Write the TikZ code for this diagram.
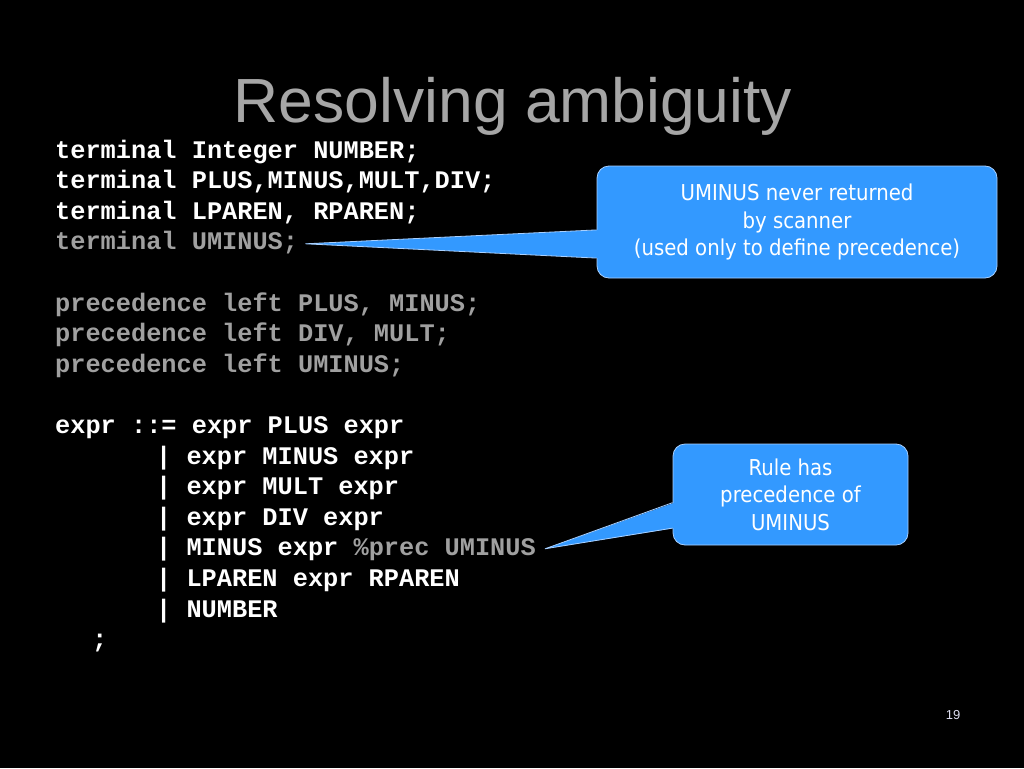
\documentclass[tikz,border=0pt]{standalone}
\usepackage{fontspec}
\setmainfont{Liberation Sans}
\setmonofont{Liberation Mono}
\newfontfamily\notefont{DejaVu Sans Condensed}
\usetikzlibrary{positioning, calc}

\definecolor{codegray}{HTML}{A0A0A0}
\definecolor{titlegray}{HTML}{A6A6A6}
\definecolor{noteblue}{HTML}{3399FF}
\definecolor{noteedge}{HTML}{A8D0FF}
\definecolor{pagecol}{HTML}{DDDDF0}

\tikzset{
  codeline/.style={anchor=base west, inner sep=0pt, text=white,
    font=\fontsize{25.3}{30.6}\selectfont\ttfamily\bfseries},
  notebox/.style={draw=noteedge, fill=noteblue, line width=0.8pt, rounded corners=12pt,
    text=white, align=center, inner sep=0pt, font=\notefont\fontsize{21.9}{27.5}\selectfont},
  wedge/.style={fill=noteblue},
  wedgeline/.style={draw=noteedge, line width=0.8pt}
}

\begin{document}
\begin{tikzpicture}[x=1pt, y=-1pt]
   % Slide
   \useasboundingbox (0,0) rectangle (1024,768);
   \fill[black] (0,0) rectangle (1024,768);

   \node[text=titlegray, font=\fontsize{62.4}{70}\selectfont, anchor=base] (title) at (513,122) {Resolving ambiguity};

   % Grammar lines
   \foreach \i/\x/\txt in {
      0/55/{terminal Integer NUMBER;},
      1/55/{terminal PLUS,MINUS,MULT,DIV;},
      2/55/{terminal LPAREN, RPAREN;},
      3/55/{\color{codegray}terminal UMINUS;},
      5/55/{\color{codegray}precedence left PLUS, MINUS;},
      6/55/{\color{codegray}precedence left DIV, MULT;},
      7/55/{\color{codegray}precedence left UMINUS;},
      9/55/{expr ::= expr PLUS expr},
      10/156/{| expr MINUS expr},
      11/156/{| expr MULT expr},
      12/156/{| expr DIV expr},
      13/156/{| MINUS expr {\color{codegray}\%prec UMINUS}},
      14/156/{| LPAREN expr RPAREN},
      15/156/{| NUMBER},
      16/92/{;}}
      \node[codeline] (line\i) at (\x, 158+30.6*\i) {\txt};

   % Callouts
   \node[notebox, minimum width=400pt, minimum height=112pt] (umnote) at (797,222)
      {UMINUS never returned\\by scanner\\(used only to define precedence)};
   \node[notebox, minimum width=235pt, minimum height=101pt] (rulenote) at (790.5,494.5)
      {Rule has\\precedence of\\UMINUS};

   \coordinate (umtip) at ($(line3.base east)+(7,-6)$);
   \coordinate (ruletip) at ($(line13.base east)+(9,-7)$);

   \fill[wedge] (umtip) -- ($(umnote.north west)!0.57!(umnote.south west)+(2,0)$)
      -- ($(umnote.north west)!0.82!(umnote.south west)+(2,0)$) -- cycle;
   \draw[wedgeline] ($(umnote.north west)!0.57!(umnote.south west)$) -- (umtip)
      -- ($(umnote.north west)!0.82!(umnote.south west)$);

   \fill[wedge] (ruletip) -- ($(rulenote.north west)!0.58!(rulenote.south west)+(2,0)$)
      -- ($(rulenote.north west)!0.83!(rulenote.south west)+(2,0)$) -- cycle;
   \draw[wedgeline] ($(rulenote.north west)!0.58!(rulenote.south west)$) -- (ruletip)
      -- ($(rulenote.north west)!0.83!(rulenote.south west)$);

   \node[text=pagecol, font=\fontsize{13}{15}\selectfont, anchor=base] (pagenum) at (953,719) {19};
\end{tikzpicture}
\end{document}
